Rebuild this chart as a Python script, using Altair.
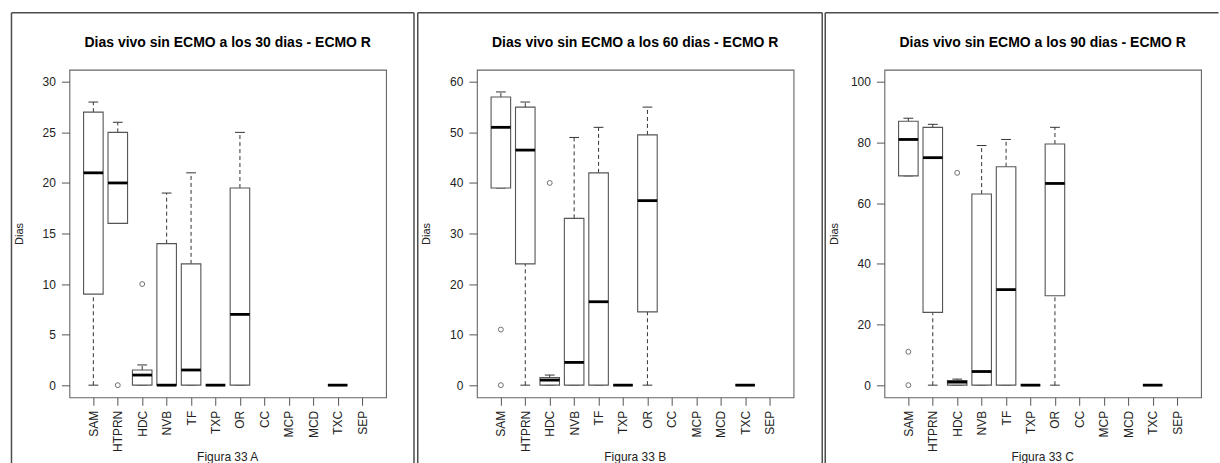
import altair as alt
import pandas as pd

FONT = "Liberation Sans"

categories = ["SAM", "HTPRN", "HDC", "NVB", "TF", "TXP", "OR",
              "CC", "MCP", "MCD", "TXC", "SEP"]

# Dias vivo sin ECMO a los 30 dias (whisker low, Q1, median, Q3, whisker high)
lo_30 = [0, 16, 0, 0, 0, 0, 0, None, None, None, 0, None]
q1_30 = [9, 16, 0, 0, 0, 0, 0, None, None, None, 0, None]
med_30 = [21, 20, 1, 0, 1.5, 0, 7, None, None, None, 0, None]
q3_30 = [27, 25, 1.5, 14, 12, 0, 19.5, None, None, None, 0, None]
hi_30 = [28, 26, 2, 19, 21, 0, 25, None, None, None, 0, None]
out_cat_30 = ["HTPRN", "HDC"]
out_val_30 = [0, 10]

# Dias vivo sin ECMO a los 60 dias
lo_60 = [39, 0, 0, 0, 0, 0, 0, None, None, None, 0, None]
q1_60 = [39, 24, 0, 0, 0, 0, 14.5, None, None, None, 0, None]
med_60 = [51, 46.5, 1, 4.5, 16.5, 0, 36.5, None, None, None, 0, None]
q3_60 = [57, 55, 1.5, 33, 42, 0, 49.5, None, None, None, 0, None]
hi_60 = [58, 56, 2, 49, 51, 0, 55, None, None, None, 0, None]
out_cat_60 = ["SAM", "SAM", "HDC"]
out_val_60 = [11, 0, 40]

# Dias vivo sin ECMO a los 90 dias
lo_90 = [69, 0, 0, 0, 0, 0, 0, None, None, None, 0, None]
q1_90 = [69, 24, 0, 0, 0, 0, 29.5, None, None, None, 0, None]
med_90 = [81, 75, 1, 4.5, 31.5, 0, 66.5, None, None, None, 0, None]
q3_90 = [87, 85, 1.5, 63, 72, 0, 79.5, None, None, None, 0, None]
hi_90 = [88, 86, 2, 79, 81, 0, 85, None, None, None, 0, None]
out_cat_90 = ["SAM", "SAM", "HDC"]
out_val_90 = [11, 0, 70]

W, H = 317, 328
LINE = "#555555"


def panel(lo, q1, med, q3, hi, out_cat, out_val, ticks, ydom, title, caption,
          left, right, top_end, bottom=402):
    rows = []
    for i, c in enumerate(categories):
        if med[i] is None:
            continue
        rows.append(dict(cat=c, pos=i + 1, lo=lo[i], q1=q1[i], med=med[i],
                         q3=q3[i], hi=hi[i]))
    boxes = pd.DataFrame(rows)
    outs = pd.DataFrame({"cat": out_cat, "value": out_val})
    outs["pos"] = [categories.index(c) + 1 for c in out_cat]

    label_list = ",".join("'%s'" % c for c in categories)
    xscale = alt.Scale(domain=[0.02, 12.98], nice=False, zero=False)
    xaxis = alt.Axis(values=list(range(1, 13)), tickCount=len(categories) + 2,
                     title=None, grid=False,
                     domain=False, labelAngle=-90, tickSize=8, labelPadding=5,
                     labelOverlap=False, labelBound=False, labelFlush=False,
                     labelExpr="[%s][datum.value - 1]" % label_list)
    yscale = alt.Scale(domain=ydom, nice=False, zero=False)
    yaxis = alt.Axis(values=ticks, tickCount=len(ticks) + 2, title="Dias",
                     grid=False, domain=False,
                     tickSize=8, labelPadding=6, titleX=-50, titleY=H / 2,
                     labelOverlap=False, labelFlush=False,
                     titleAngle=-90, titleAlign="center",
                     titleBaseline="middle", titleFontWeight="normal",
                     titleFontSize=11)

    base = alt.Chart(boxes).transform_calculate(
        x0="datum.pos - 0.4", x1="datum.pos + 0.4",
        s0="datum.pos - 0.2", s1="datum.pos + 0.2")

    X = alt.X("pos:Q", scale=xscale, axis=xaxis)

    whisk_up = base.mark_rule(color="#333333", strokeWidth=1,
                              strokeDash=[4, 3]).encode(
        x=X, y=alt.Y("q3:Q", scale=yscale, axis=yaxis), y2="hi:Q")
    whisk_dn = base.mark_rule(color="#333333", strokeWidth=1,
                              strokeDash=[4, 3]).encode(
        x=X, y=alt.Y("lo:Q", scale=yscale), y2="q1:Q")
    staple_hi = base.mark_rule(color="#333333", strokeWidth=1).encode(
        x=alt.X("s0:Q", scale=xscale), x2="s1:Q",
        y=alt.Y("hi:Q", scale=yscale))
    staple_lo = base.mark_rule(color="#333333", strokeWidth=1).encode(
        x=alt.X("s0:Q", scale=xscale), x2="s1:Q",
        y=alt.Y("lo:Q", scale=yscale))
    box = base.mark_rect(fill="white", stroke=LINE, strokeWidth=1.1).encode(
        x=alt.X("x0:Q", scale=xscale), x2="x1:Q",
        y=alt.Y("q1:Q", scale=yscale), y2="q3:Q")
    median = base.mark_rule(color="black", strokeWidth=2.8).encode(
        x=alt.X("x0:Q", scale=xscale), x2="x1:Q",
        y=alt.Y("med:Q", scale=yscale))
    points = alt.Chart(outs).mark_point(
        shape="circle", filled=False, size=24, strokeWidth=1,
        color="#333333").encode(
        x=alt.X("pos:Q", scale=xscale), y=alt.Y("value:Q", scale=yscale))

    one = pd.DataFrame({"k": [0]})
    head = alt.Chart(one).mark_text(
        text=title, font=FONT, fontSize=14, fontWeight="bold",
        align="center", baseline="middle", color="black").encode(
        x=alt.value(W / 2), y=alt.value(-27))
    foot = alt.Chart(one).mark_text(
        text=caption, font=FONT, fontSize=12, align="center",
        baseline="alphabetic", color="#222222").encode(
        x=alt.value(W / 2), y=alt.value(391.5))

    frame = [
        alt.Chart(one).mark_rule(color="#4d4d4d", strokeWidth=1.5).encode(
            x=alt.value(left), y=alt.value(-57), y2=alt.value(bottom)),
        alt.Chart(one).mark_rule(color="#4d4d4d", strokeWidth=1.5).encode(
            x=alt.value(left), x2=alt.value(top_end), y=alt.value(-57)),
    ]
    if right is not None:
        frame.append(
            alt.Chart(one).mark_rule(color="#4d4d4d", strokeWidth=1.5).encode(
                x=alt.value(right), y=alt.value(-57), y2=alt.value(bottom)))

    return alt.layer(whisk_up, whisk_dn, staple_hi, staple_lo, box, median,
                     points, head, foot, *frame).properties(width=W, height=H)


pA = panel(lo_30, q1_30, med_30, q3_30, hi_30, out_cat_30, out_val_30,
           [0, 5, 10, 15, 20, 25, 30], [-1.2, 31.2],
           "Dias vivo sin ECMO a los 30 dias - ECMO R", "Figura 33 A",
           left=-58, right=345, top_end=345)
pB = panel(lo_60, q1_60, med_60, q3_60, hi_60, out_cat_60, out_val_60,
           [0, 10, 20, 30, 40, 50, 60], [-2.4, 62.4],
           "Dias vivo sin ECMO a los 60 dias - ECMO R", "Figura 33 B",
           left=-59.25, right=345.75, top_end=345.75)
pC = panel(lo_90, q1_90, med_90, q3_90, hi_90, out_cat_90, out_val_90,
           [0, 20, 40, 60, 80, 100], [-4, 104],
           "Dias vivo sin ECMO a los 90 dias - ECMO R", "Figura 33 C",
           left=-59.25, right=None, top_end=334.5)

chart = alt.hconcat(pA, pB, pC, spacing=91, bounds="flush").properties(
    padding={"left": 9.5, "top": 10.5, "right": 0, "bottom": -8},
    background="white",
).configure_view(
    stroke="#666666", strokeWidth=1.1
).configure_axis(
    labelFont=FONT, titleFont=FONT, labelFontSize=12, labelColor="#222222",
    tickColor="#555555", tickWidth=1, titleColor="#222222"
)

chart.save("out.html", embed_options={"renderer": "svg", "actions": False})
